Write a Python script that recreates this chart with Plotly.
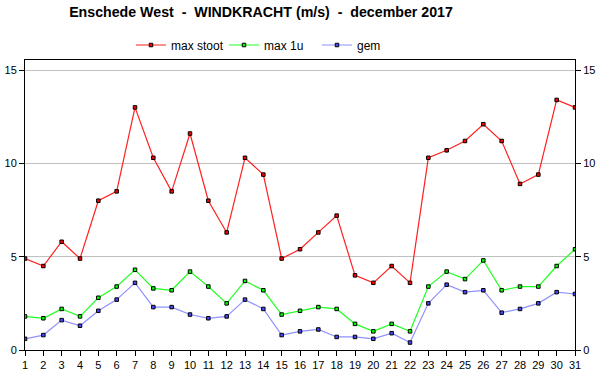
import plotly.graph_objects as go

days = list(range(1, 32))
max_stoot = [4.9, 4.5, 5.8, 4.9, 8.0, 8.5, 13.0, 10.3, 8.5, 11.6, 8.0, 6.3, 10.3, 9.4, 4.9,
             5.4, 6.3, 7.2, 4.0, 3.6, 4.5, 3.6, 10.3, 10.7, 11.2, 12.1, 11.2, 8.9, 9.4, 13.4, 13.0]
max_1u = [1.8, 1.7, 2.2, 1.8, 2.8, 3.4, 4.3, 3.3, 3.2, 4.2, 3.4, 2.5, 3.7, 3.2, 1.9,
          2.1, 2.3, 2.2, 1.4, 1.0, 1.4, 1.0, 3.4, 4.2, 3.8, 4.8, 3.2, 3.4, 3.4, 4.5, 5.4]
gem = [0.6, 0.8, 1.6, 1.3, 2.1, 2.7, 3.6, 2.3, 2.3, 1.9, 1.7, 1.8, 2.7, 2.2, 0.8,
       1.0, 1.1, 0.7, 0.7, 0.6, 0.9, 0.4, 2.5, 3.5, 3.1, 3.2, 2.0, 2.2, 2.5, 3.1, 3.0]
y_ticks = [0, 5, 10, 15]

series = [
    ("max stoot", max_stoot, "#FF2020", "#FF0000"),
    ("max 1u", max_1u, "#20FF20", "#00FF00"),
    ("gem", gem, "#9090FF", "#4848FF"),
]

fig = go.Figure()
for name, vals, lc, mc in series:
    fig.add_trace(go.Scatter(
        x=days, y=vals, name=name, mode="lines+markers",
        line=dict(color=lc, width=1.2),
        marker=dict(symbol="square", size=3.5, color=mc, line=dict(color="black", width=1)),
    ))
# invisible trace for right axis
fig.add_trace(go.Scatter(x=days, y=gem, yaxis="y2", showlegend=False,
                         mode="lines", line=dict(width=0), hoverinfo="skip", opacity=0))

yr = [0, 15.54]
base = "Liberation Sans, Arial, sans-serif"
axis_font = dict(family=base, size=11, color="black")
fig.update_layout(
    width=600, height=390,
    margin=dict(l=25, r=25, t=60, b=40, autoexpand=False),
    paper_bgcolor="white", plot_bgcolor="white",
    title=dict(text="<b>Enschede West  -  WINDKRACHT (m/s)  -  december 2017</b>",
               x=261 / 600, xanchor="center", y=1 - 12 / 390, yanchor="middle",
               font=dict(family=base, size=14.2, color="black")),
    legend=dict(orientation="h", x=(131 - 25) / 550, xanchor="left", y=1 + 15 / 290, yanchor="middle",
                font=dict(family=base, size=12, color="black"),
                itemwidth=30, entrywidth=48, bgcolor="rgba(0,0,0,0)"),
    xaxis=dict(range=[1, 31], tickmode="array", tickvals=days, ticktext=[str(d) for d in days],
               showgrid=False, zeroline=False, showline=True, linecolor="black", linewidth=1,
               mirror=True, ticks="outside", ticklen=5, tickcolor="black", tickfont=axis_font),
    yaxis=dict(range=yr, tickvals=y_ticks, showgrid=True, gridcolor="#C0C0C0", gridwidth=1,
               zeroline=False, showline=True, linecolor="black", linewidth=1, mirror=True,
               ticks="outside", ticklen=5, tickcolor="black", tickfont=axis_font),
    yaxis2=dict(range=yr, tickvals=y_ticks, overlaying="y", side="right", showgrid=False,
                zeroline=False, showline=False, ticks="outside", ticklen=5,
                tickcolor="black", tickfont=axis_font),
)
fig.write_html("out.html", config={"displayModeBar": False},
               post_script="document.body.style.margin='0';")
